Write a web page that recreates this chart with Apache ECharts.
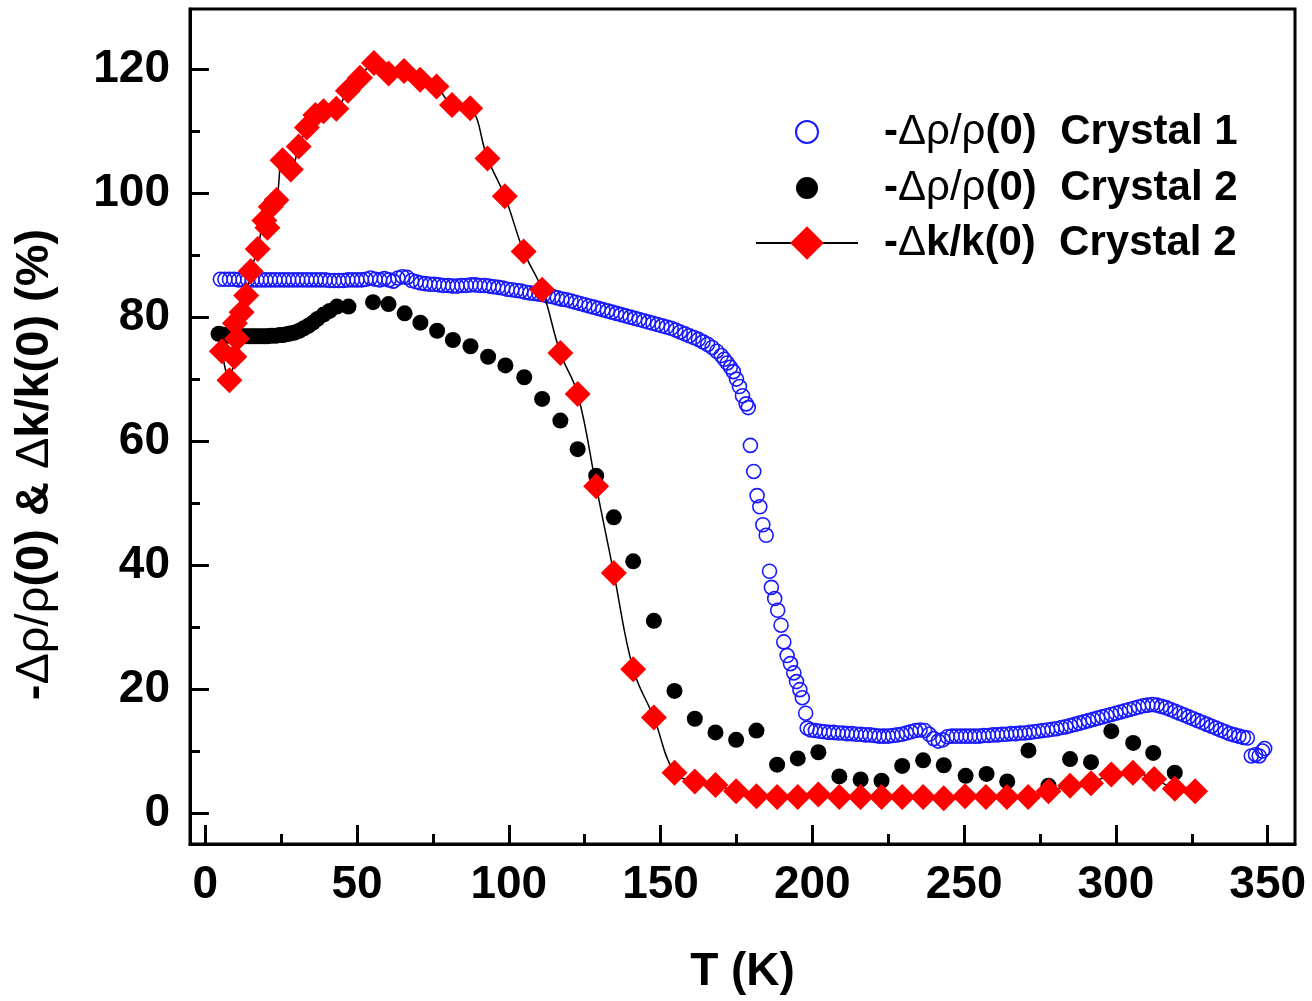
<!DOCTYPE html>
<html>
<head>
<meta charset="utf-8">
<script src="https://cdn.jsdelivr.net/npm/echarts@6/dist/echarts.min.js"></script>
<style>
  html, body { margin: 0; padding: 0; background: #fff; }
  #chart { width: 1312px; height: 1001px; }
</style>
</head>
<body>
<div id="chart"></div>
<script>
// -Δρ/ρ(0) crystal 1, [T (K), %]
const crystal1Rho = [
  [5.0, 86.1], [6.5, 86.1], [8.0, 86.1], [9.5, 86.1], [11, 86.0], [12.5, 86.0], [14, 86.0], [15.5, 86.0],
  [17, 86.0], [18.5, 86.0], [20, 86.0], [21.5, 86.0], [23, 86.0], [24.5, 86.0], [26, 86.0], [27.5, 86.0],
  [29, 86.0], [30.5, 86.0], [32, 86.0], [33.5, 86.0], [35, 86.0], [36.5, 86.0], [38, 86.0], [39.5, 86.0],
  [41, 85.9], [42.5, 85.9], [44, 85.9], [45.5, 85.9], [47, 86.0], [48.5, 86.0], [50, 86.0], [51.5, 86.0],
  [53, 86.1], [54.5, 86.3], [56, 86.1], [57.5, 86.0], [59, 86.2], [60.5, 86.0], [62, 85.8], [63.5, 86.3],
  [65, 86.5], [66.5, 86.4], [68, 85.9], [69.5, 85.7], [71, 85.5], [72.5, 85.4], [74, 85.3], [75.5, 85.3],
  [77, 85.2], [78.5, 85.1], [80, 85.1], [81.5, 85.0], [83, 85.0], [84.5, 85.1], [86, 85.1], [87.5, 85.2],
  [89, 85.2], [90.5, 85.1], [92, 85.1], [93.5, 85.0], [95, 84.9], [96.5, 84.8], [98, 84.7], [99.5, 84.5],
  [101, 84.4], [102.5, 84.3], [104, 84.2], [105.5, 84.0], [107, 83.9], [108.5, 83.8], [110, 83.7], [111.5, 83.6],
  [113, 83.4], [114.5, 83.3], [116, 83.1], [117.5, 82.9], [119, 82.8], [120.5, 82.6], [122, 82.4], [123.5, 82.2],
  [125, 82.0], [126.5, 81.8], [128, 81.6], [129.5, 81.4], [131, 81.2], [132.5, 81.0], [134, 80.8], [135.5, 80.6],
  [137, 80.4], [138.5, 80.2], [140, 80.0], [141.5, 79.8], [143, 79.6], [144.5, 79.4], [146, 79.2], [147.5, 79.0],
  [149, 78.8], [150.5, 78.6], [152, 78.4], [153.5, 78.2], [155, 77.9], [156.5, 77.6], [158, 77.3], [159.5, 77.0],
  [161, 76.7], [162.5, 76.4], [164, 76.0], [165.5, 75.6], [167, 75.1], [168.5, 74.5], [170, 73.8], [171, 73.2],
  [172, 72.6], [173, 71.9], [174, 71.2], [175, 70.0], [176, 68.8], [177, 67.3], [178.2, 66.0], [178.9, 65.4],
  [179.6, 59.3], [180.7, 55.1], [181.8, 51.2], [182.7, 49.4], [183.7, 46.5], [184.8, 44.8], [185.9, 39.0], [186.5, 36.4],
  [187.6, 34.6], [188.6, 32.7], [189.7, 30.3], [190.6, 27.6], [191.7, 25.4], [192.8, 24.1], [193.9, 22.6], [194.8, 21.2],
  [195.9, 19.9], [196.7, 18.6], [197.8, 16.1], [198.3, 13.7], [199.5, 13.4], [201, 13.3], [202.5, 13.2], [204, 13.1],
  [205.5, 13.0], [207, 13.0], [208.5, 12.9], [210, 12.9], [211.5, 12.8], [213, 12.8], [214.5, 12.7], [216, 12.7],
  [217.5, 12.6], [219, 12.6], [220.5, 12.5], [222, 12.4], [223.5, 12.4], [225, 12.4], [226.5, 12.5], [228, 12.6],
  [229.5, 12.7], [231, 12.9], [232.5, 13.1], [234, 13.3], [235.5, 13.4], [237, 13.3], [238.5, 12.7], [240, 12.0],
  [241.5, 11.6], [243, 11.8], [244.5, 12.3], [246, 12.4], [247.5, 12.4], [249, 12.4], [250.5, 12.4], [252, 12.4],
  [253.5, 12.4], [255, 12.4], [256.5, 12.5], [258, 12.5], [259.5, 12.6], [261, 12.6], [262.5, 12.7], [264, 12.7],
  [265.5, 12.8], [267, 12.8], [268.5, 12.9], [270, 12.9], [271.5, 13.0], [273, 13.1], [274.5, 13.2], [276, 13.3],
  [277.5, 13.4], [279, 13.5], [280.5, 13.6], [282, 13.8], [283.5, 13.9], [285, 14.1], [286.5, 14.3], [288, 14.5],
  [289.5, 14.7], [291, 14.9], [292.5, 15.1], [294, 15.3], [295.5, 15.5], [297, 15.7], [298.5, 15.9], [300, 16.1],
  [301.5, 16.3], [303, 16.5], [304.5, 16.7], [306, 16.9], [307.5, 17.1], [309, 17.3], [310.5, 17.4], [312, 17.5],
  [313.5, 17.4], [315, 17.2], [316.5, 17.0], [318, 16.7], [319.5, 16.4], [321, 16.1], [322.5, 15.8], [324, 15.5],
  [325.5, 15.2], [327, 14.9], [328.5, 14.6], [330, 14.3], [331.5, 14.0], [333, 13.7], [334.5, 13.4], [336, 13.1],
  [337.5, 12.8], [339, 12.6], [340.5, 12.4], [342, 12.2], [343.3, 12.1], [344.6, 9.2], [346, 9.4], [347.2, 9.2],
  [348.3, 10.0], [349, 10.4]
];

// -Δρ/ρ(0) crystal 2
const crystal2Rho = [
  [4.4, 77.3], [5.5, 77.2], [6.5, 77.1], [7.5, 77.0], [8.5, 77.0], [9.5, 76.9], [10.5, 76.9], [11.5, 76.9],
  [12.5, 76.9], [13.5, 76.9], [14.5, 76.9], [15.5, 76.9], [16.5, 76.9], [17.5, 76.9], [18.5, 76.9], [19.5, 76.9],
  [20.5, 76.9], [21.5, 77.0], [22.5, 77.0], [23.5, 77.0], [24.5, 77.1], [25.5, 77.1], [26.5, 77.2], [27.5, 77.3],
  [28.5, 77.4], [29.5, 77.5], [31, 77.8], [32.5, 78.2], [34, 78.6], [35.5, 79.1], [37, 79.7], [39, 80.4],
  [41, 81.0], [43.4, 81.7], [47.2, 81.7], [55.3, 82.4], [60.4, 82.1], [65.7, 80.6], [70.9, 79.1], [76.4, 77.8],
  [81.6, 76.3], [87.4, 75.3], [93.2, 73.6], [98.9, 72.2], [105.1, 70.3], [111, 66.8], [117, 63.3], [122.7, 58.7],
  [128.8, 54.4], [134.6, 47.7], [141, 40.6], [147.8, 31.0], [154.6, 19.7], [161.3, 15.2], [168.1, 13.0], [174.9, 11.8],
  [181.6, 13.3], [188.4, 7.8], [195.2, 8.8], [202, 9.8], [208.9, 5.9], [215.9, 5.4], [222.8, 5.2], [229.6, 7.6],
  [236.5, 8.5], [243.3, 7.7], [250.5, 6.0], [257.4, 6.3], [264.2, 5.1], [271.2, 10.1], [277.8, 4.4], [284.9, 8.7],
  [291.8, 8.2], [298.5, 13.2], [305.7, 11.3], [312.3, 9.7], [319.4, 6.5]
];

// -Δk/k(0) crystal 2
const crystal2Kappa = [
  [5.5, 74.5], [8.0, 69.8], [9.6, 73.6], [10.5, 76.5], [9.8, 79.0], [12.0, 80.8], [13.5, 83.5], [15.0, 87.4],
  [17.3, 91.0], [19.5, 95.6], [20.5, 94.4], [21.6, 97.8], [23.5, 98.9], [25.5, 105.3], [28.2, 103.8], [30.8, 107.5],
  [33.5, 110.6], [36.3, 112.6], [39, 113.2], [43.2, 113.6], [47, 116.5], [51, 118.6], [55.6, 121.0], [60.4, 119.3],
  [65.5, 119.7], [70.8, 118.3], [76.2, 117.2], [81.3, 114.2], [87.3, 113.7], [93, 105.6], [98.7, 99.5], [104.9, 90.6],
  [111, 84.4], [117, 74.2], [122.7, 67.6], [128.8, 52.7], [134.6, 38.7], [141, 23.2], [147.8, 15.4], [154.6, 6.5],
  [161.3, 5.1], [168.1, 4.5], [174.9, 3.5], [181.6, 2.7], [188.4, 2.6], [195.2, 2.6], [202, 3.0], [208.9, 2.6],
  [215.9, 2.6], [222.8, 2.6], [229.6, 2.6], [236.5, 2.6], [243.3, 2.4], [250.3, 2.7], [257.2, 2.6], [264.1, 2.6],
  [271.1, 2.6], [277.8, 3.5], [284.9, 4.4], [291.8, 4.8], [298.5, 6.2], [305.6, 6.5], [312.6, 5.5], [319.4, 3.9],
  [326.1, 3.5]
];

const xLabels = [0, 50, 100, 150, 200, 250, 300, 350];
const xMinor = [25, 75, 125, 175, 225, 275, 325];
const yLabels = [0, 20, 40, 60, 80, 100, 120];
const yMinor = [10, 30, 50, 70, 90, 110];

const seriesNames = [
  '-Δρ/ρ(0)  Crystal 1',
  '-Δρ/ρ(0)  Crystal 2',
  '-Δk/k(0)  Crystal 2'
];

const FONT = '"Liberation Sans", Arial, Helvetica, sans-serif';
// greek letters (and the slash between the two rho) are set in a plain weight, as in the original figure
const greek = s => s.replace(/(ρ\/ρ|Δ)/g, '{g|$1}');

const chart = echarts.init(document.getElementById('chart'));

const axisCommon = {
  type: 'value',
  axisLine: { show: true, onZero: false, lineStyle: { color: '#000', width: 3 } },
  splitLine: { show: false },
}
const hiddenLine = { show: false, onZero: false };

const legendText = {
  fontFamily: FONT, fontSize: 42, fontWeight: 'bold', color: '#000', lineHeight: 46,
  padding: [0, 0, 0, 21],
  rich: { g: { fontFamily: FONT, fontSize: 42, fontWeight: 'normal', color: '#000', lineHeight: 46 } }
}

chart.setOption({
  animation: false,
  backgroundColor: '#fff',
  grid: {
    left: 190, top: 9, width: 1105, height: 835,
    show: true, borderColor: '#000', borderWidth: 3, backgroundColor: 'transparent'
  },
  legend: [{
    // the circle sits in the middle of the 102px icon box, the box edge is 40px to its left
    data: seriesNames.slice(0, 2),
    orient: 'vertical', left: 795, top: 109, padding: 0,
    itemWidth: 102, itemHeight: 22, itemGap: 10,
    formatter: greek, textStyle: legendText, selectedMode: false
  }, {
    data: seriesNames.slice(2),
    orient: 'vertical', left: 755, top: 220, padding: 0,
    itemWidth: 102, itemHeight: 42,
    formatter: greek, textStyle: legendText, selectedMode: false
  }],
  xAxis: [{
    ...axisCommon,
    min: -5, max: 359,
    axisTick: { show: true, inside: true, length: 19, customValues: xLabels, lineStyle: { color: '#000', width: 3 } },
    axisLabel: { customValues: xLabels, margin: 18, color: '#000', fontFamily: FONT, fontSize: 46, fontWeight: 'bold' },
    name: 'T (K)', nameLocation: 'middle', nameGap: 105,
    nameTextStyle: { color: '#000', fontFamily: FONT, fontSize: 46, fontWeight: 'bold' }
  }, {
    ...axisCommon,
    min: -5, max: 359, position: 'bottom',
    axisLine: hiddenLine,
    axisTick: { show: true, inside: true, length: 10, customValues: xMinor, lineStyle: { color: '#000', width: 3 } },
    axisLabel: { show: false }
  }],
  yAxis: [{
    ...axisCommon,
    min: -5, max: 129.7,
    axisTick: { show: true, inside: true, length: 19, customValues: yLabels, lineStyle: { color: '#000', width: 3 } },
    axisLabel: { customValues: yLabels, margin: 20, color: '#000', fontFamily: FONT, fontSize: 46, fontWeight: 'bold' },
    name: greek('-Δρ/ρ(0) & Δk/k(0) (%)'), nameLocation: 'middle', nameGap: 131,
    nameTextStyle: {
      color: '#000', fontFamily: FONT, fontSize: 47, fontWeight: 'bold', padding: [0, 76, 0, 0],
      rich: { g: { fontFamily: FONT, fontSize: 47, fontWeight: 'normal', color: '#000' } }
    }
  }, {
    ...axisCommon,
    min: -5, max: 129.7, position: 'left',
    axisLine: hiddenLine,
    axisTick: { show: true, inside: true, length: 10, customValues: yMinor, lineStyle: { color: '#000', width: 3 } },
    axisLabel: { show: false }
  }],
  series: [{
    name: seriesNames[0],
    type: 'scatter',
    data: crystal1Rho,
    symbol: 'circle', symbolSize: 14,
    itemStyle: { color: 'rgba(0,0,0,0)', borderColor: '#1a1aff', borderWidth: 1.6, opacity: 1 },
    emphasis: { disabled: true },
    z: 2
  }, {
    name: seriesNames[1],
    type: 'scatter',
    data: crystal2Rho,
    symbol: 'circle', symbolSize: 16,
    itemStyle: { color: '#000', opacity: 1 },
    emphasis: { disabled: true },
    z: 3
  }, {
    name: seriesNames[2],
    type: 'line',
    data: crystal2Kappa,
    smooth: 0.4,
    showAllSymbol: true,
    symbol: 'diamond', symbolSize: 26,
    itemStyle: { color: '#ff0000', opacity: 1 },
    lineStyle: { color: '#000', width: 1.5 },
    emphasis: { disabled: true },
    z: 4
  }]
});
</script>
</body>
</html>
